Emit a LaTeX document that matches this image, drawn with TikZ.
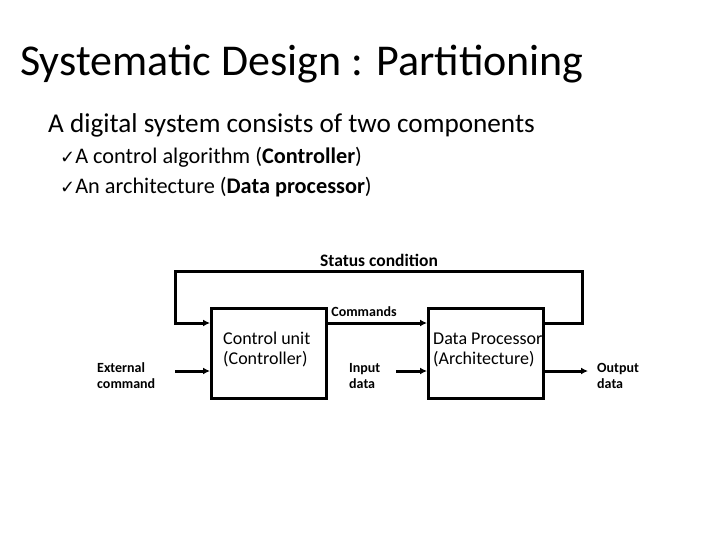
\documentclass[tikz,border=0pt]{standalone}
\usepackage{fontspec}
\setmainfont{Carlito}
\newfontfamily\symfont{DejaVu Sans}
\usetikzlibrary{arrows.meta}
\tikzset{
  blk/.style={draw, line width=3pt, minimum width=115pt, minimum height=90pt, anchor=north west, inner sep=0pt},
  blktext/.style={anchor=base west, align=left, font=\fontsize{18}{20}\selectfont, inner sep=0pt},
  lbl/.style={align=left, anchor=base west, font=\bfseries\fontsize{14}{16}\selectfont, inner sep=0pt},
  arr/.style={line width=3pt, -{Latex[length=7pt,width=7pt]}},
  item/.style={anchor=base west, inner sep=0pt, font=\fontsize{22.3}{28}\selectfont},
}
\newcommand{\chk}{{\symfont\fontsize{18}{18}\selectfont ✓}}
\begin{document}
\begin{tikzpicture}[x=1pt,y=-1pt]
\useasboundingbox (0,0) rectangle (720,540);
\node[anchor=base west, inner sep=0pt, font=\fontsize{44}{50}\selectfont] (title) at (20,76) {Systematic Design : Partitioning};
\node[anchor=base west, inner sep=0pt, font=\fontsize{27.2}{32}\selectfont] (sub) at (48,133) {A digital system consists of two components};
\node[item] (it1) at (60,164) {\chk A control algorithm (\textbf{Controller})};
\node[item] (it2) at (60,194) {\chk An architecture (\textbf{Data processor})};

\node[blktext] (cut) at (223,364) {Control unit\\(Controller)};
\node[blktext] (dpt) at (433,364) {Data Processor\\(Architecture)};
\node[blk] (cu) at (210,307) {};
\node[blk] (dp) at (427,307) {};

\coordinate (fb1) at (582,323);
\coordinate (fb2) at (582,271);
\coordinate (fb3) at (175,271);
\coordinate (fb4) at (175,323);
\draw[arr] (dp.east |- fb1) -- (fb1) -- (fb2) -- (fb3) -- (fb4) -- (cu.west |- fb4);
\draw[arr] (cu.east |- fb1) -- (dp.west |- fb1);

\coordinate (ext) at (175,371);
\coordinate (inp) at (396,371);
\coordinate (outp) at (588,371);
\draw[arr] (ext) -- (cu.west |- ext);
\draw[arr] (inp) -- (dp.west |- inp);
\draw[arr] (dp.east |- outp) -- (outp);

\node[font=\bfseries\fontsize{17.5}{20}\selectfont, inner sep=0pt, anchor=base] (st) at (379,266) {Status condition};
\node[lbl, anchor=base] (cmd) at (364,316) {Commands};
\node[lbl] (extl) at (97,388) {External\\command};
\node[lbl] (inl) at (349,388) {Input\\data};
\node[lbl] (outl) at (597,388) {Output\\data};
\end{tikzpicture}
\end{document}
